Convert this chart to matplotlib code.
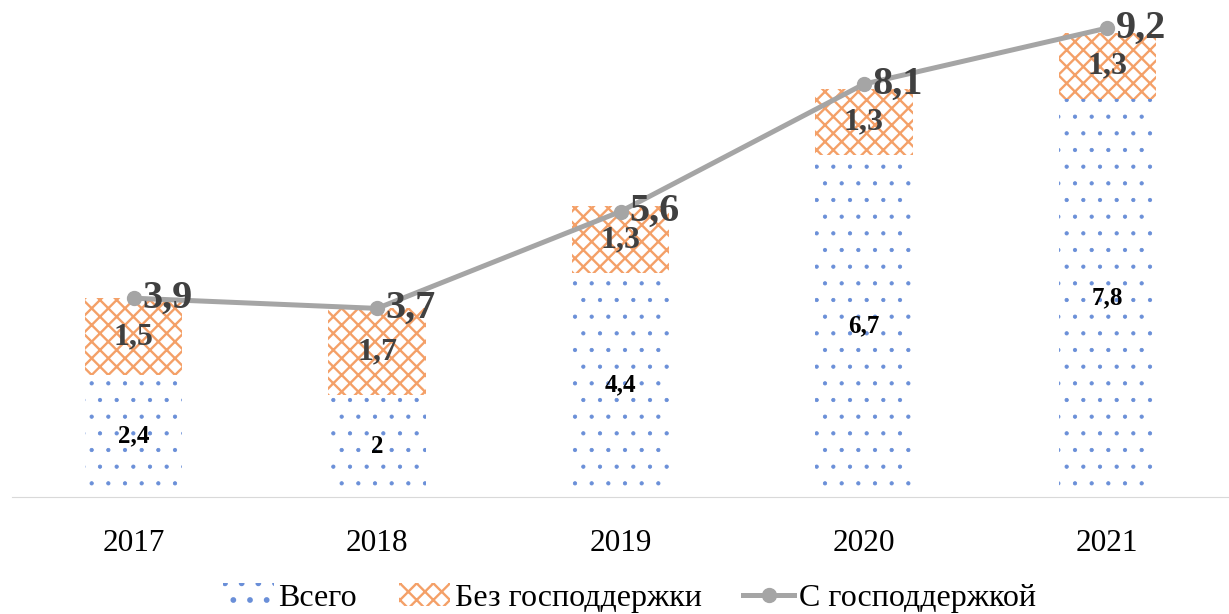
import matplotlib.pyplot as plt

plt.rcParams['font.family'] = ['Liberation Serif', 'DejaVu Serif']

years = ['2017', '2018', '2019', '2020', '2021']
total = [2.4, 2.0, 4.4, 6.7, 7.8]          # Всего
no_support = [1.5, 1.7, 1.3, 1.3, 1.3]     # Без господдержки
with_support = [3.9, 3.7, 5.6, 8.1, 9.2]   # С господдержкой


def fmt(v):
    return f"{v:g}".replace('.', ',')


fig = plt.figure(figsize=(12.29, 6.14), dpi=100)
ax = fig.add_axes([12 / 1229, 117 / 614, 1 - 12 / 1229, 497 / 614])

x = range(len(years))
plt.rcParams['hatch.linewidth'] = 0.6
b1 = ax.bar(x, total, width=0.4, color='white', edgecolor='#6A8FD8',
            linewidth=0, hatch='.', label='Всего')
plt.rcParams['hatch.linewidth'] = 1.7
b2 = ax.bar(x, no_support, width=0.4, bottom=total, color='white',
            edgecolor='#F4A068', linewidth=0, hatch='xx', label='Без господдержки')
for p in b1:
    if hasattr(p, 'set_hatch_linewidth'):
        p.set_hatch_linewidth(0.6)
for p in b2:
    if hasattr(p, 'set_hatch_linewidth'):
        p.set_hatch_linewidth(1.7)

line, = ax.plot(x, with_support, color='#A5A5A5', linewidth=3.6, marker='o',
                markersize=10, label='С господдержкой', zorder=5)

ax.bar_label(b1, labels=[fmt(v) for v in total], label_type='center',
             fontsize=18, fontweight='bold', color='black')
ax.bar_label(b2, labels=[fmt(v) for v in no_support], label_type='center',
             fontsize=23, fontweight='bold', color='#404040')
for xi, v in zip(x, with_support):
    ax.annotate(fmt(v), (xi, v), xytext=(6, 0), textcoords='offset points',
                ha='left', va='center', fontsize=29, fontweight='bold',
                color='#404040', zorder=6)

ax.set_xlim(-0.5, 4.5)
ax.set_ylim(0, 9.75)
ax.set_xticks(list(x))
ax.set_xticklabels(years, fontsize=22.5)
ax.set_yticks([])
ax.tick_params(axis='x', length=0, pad=23)
for s in ['top', 'right', 'left']:
    ax.spines[s].set_visible(False)
ax.spines['bottom'].set_color('#D9D9D9')

fig.legend(handles=[b1, b2, line], loc='center', bbox_to_anchor=(0.512, 0.026),
           ncol=3, frameon=False, fontsize=23, handlelength=1.6,
           columnspacing=1.3, handletextpad=0.15)

fig.savefig('out.png', dpi=100)
